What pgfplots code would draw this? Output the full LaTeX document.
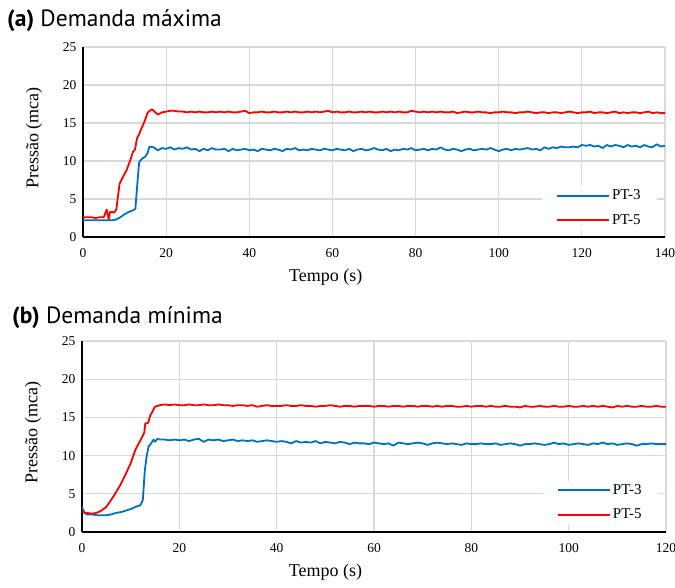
\documentclass[border=0pt]{standalone}
\usepackage{fontspec}
\setmainfont{Liberation Serif}
\newfontfamily\titlefont{PT Sans}
\usepackage{pgfplots}
\pgfplotsset{compat=1.18}

\definecolor{ptblue}{RGB}{0,112,192}
\definecolor{ptred}{RGB}{255,0,0}
\definecolor{gridgray}{RGB}{217,217,217}

\pgfplotsset{
  painel/.style={
    scale only axis,
    axis x line*=bottom, axis y line*=left,
    axis line style={line width=1.5pt, -},
    ymin=0, ymax=25, ytick={0,5,...,25},
    grid=major, major grid style={gridgray, line width=1.1pt},
    major tick length=0pt,
    /pgf/number format/assume math mode=true,
    tick label style={font=\fontsize{13.5}{14}\selectfont},
    yticklabel style={xshift=-3pt},
    xticklabel style={yshift=-8pt},
    ylabel={Pressão (mca)},
    ylabel style={at={(axis description cs:-0.084,0.52)}, anchor=center, font=\fontsize{18}{20}\selectfont},
    xlabel={Tempo (s)},
    xlabel style={at={(axis description cs:0.417,0)}, anchor=center, yshift=-40pt, font=\fontsize{18}{20}\selectfont},
    title style={at={(0,1)}, anchor=base west, inner sep=0pt, yshift=14pt, font=\titlefont\fontsize{23.5}{25}\selectfont},
    legend style={at={(0.986,0.27)}, anchor=north east, draw=none, fill=white,
      font=\fontsize{15}{16}\selectfont, row sep=9pt, inner xsep=14pt, inner ysep=2pt},
    legend cell align=left,
    legend image code/.code={\draw[##1] (0pt,0pt) -- (52pt,0pt);},
    every axis plot/.append style={line width=1.8pt, line join=round},
  }
}

\begin{document}
\begin{tikzpicture}
\path[use as bounding box] (-82pt,-56pt) rectangle (593pt,532pt);

% (a) demanda maxima
\begin{axis}[painel, at={(1pt,295pt)}, width=582pt, height=190pt,
  xmin=0, xmax=140, xtick={0,20,...,140},
  title={\textbf{(a)} Demanda máxima}, title style={xshift=-76pt}]
\addplot[ptblue] coordinates {
(0,2.2)(1,2.2)(2,2.2)(3,2.2)(4,2.2)(5,2.2)(6,2.2)(7,2.2)(8,2.3)(9,2.6)(10,3.0)(11,3.3)(12,3.5)(12.6,3.7)
(13,6.5)(13.5,9.8)(14,10.2)(15,10.6)(15.5,11.0)(16,11.9)(17,11.8)(18,11.4)
(19,11.7)(20,11.6)(21,11.8)(22,11.5)(23,11.7)(24,11.6)(25,11.8)(26,11.5)(27,11.6)(28,11.3)(29,11.6)(30,11.4)
(31,11.7)(32,11.5)(33,11.5)(34,11.6)(35,11.3)(36,11.6)(37,11.4)(38,11.5)(39,11.6)(40,11.4)
(41,11.5)(42,11.3)(43,11.6)(44,11.5)(45,11.4)(46,11.6)(47,11.5)(48,11.3)(49,11.6)(50,11.5)
(51,11.7)(52,11.4)(53,11.5)(54,11.4)(55,11.6)(56,11.5)(57,11.4)(58,11.6)(59,11.5)(60,11.4)
(61,11.6)(62,11.5)(63,11.4)(64,11.6)(65,11.3)(66,11.5)(67,11.6)(68,11.4)(69,11.5)(70,11.7)
(71,11.5)(72,11.4)(73,11.6)(74,11.3)(75,11.5)(76,11.4)(77,11.6)(78,11.5)(79,11.7)(80,11.4)
(81,11.5)(82,11.6)(83,11.4)(84,11.6)(85,11.5)(86,11.8)(87,11.5)(88,11.4)(89,11.6)(90,11.5)
(91,11.3)(92,11.5)(93,11.6)(94,11.4)(95,11.5)(96,11.6)(97,11.5)(98,11.7)(99,11.5)(100,11.3)
(101,11.5)(102,11.6)(103,11.4)(104,11.6)(105,11.5)(106,11.6)(107,11.7)(108,11.5)(109,11.6)(110,11.4)
(111,11.8)(112,11.6)(113,11.8)(114,11.7)(115,11.9)(116,11.8)(117,11.8)(118,11.9)(119,11.8)(120,12.1)
(121,12.0)(122,12.1)(123,11.9)(124,12.0)(125,11.7)(126,12.1)(127,11.9)(128,12.1)(129,12.0)(130,11.8)
(131,12.1)(132,11.9)(133,12.0)(134,11.8)(135,12.1)(136,11.9)(137,11.8)(138,12.2)(139,11.9)(140,12.0)
};
\addlegendentry{PT-3}
\addplot[ptred] coordinates {
(0,2.6)(1,2.6)(2,2.6)(3,2.5)(4,2.6)(5,2.6)(5.7,3.6)(6.2,2.3)(6.5,3.3)(7,3.3)(7.5,3.2)(8,3.6)
(8.8,7.0)(9.5,7.8)(10.5,8.8)(11.5,10.3)(12,11.2)(12.5,11.5)(13,13.0)(13.5,13.5)(14,14.2)(14.5,14.8)
(15,15.5)(15.5,16.3)(16,16.6)(16.6,16.8)(17.2,16.5)(18,16.1)
(19,16.4)(20,16.5)(21,16.6)(22,16.6)(23,16.5)(24,16.5)(25,16.4)(26,16.5)(27,16.4)(28,16.5)(29,16.4)(30,16.4)
(31,16.5)(32,16.4)(33,16.5)(34,16.4)(35,16.5)(36,16.4)(37,16.4)(38,16.5)(39,16.6)(40,16.3)
(41,16.4)(42,16.4)(43,16.5)(44,16.4)(45,16.4)(46,16.5)(47,16.4)(48,16.4)(49,16.5)(50,16.4)
(51,16.5)(52,16.4)(53,16.4)(54,16.5)(55,16.4)(56,16.5)(57,16.4)(58,16.5)(59,16.6)(60,16.4)
(61,16.5)(62,16.4)(63,16.4)(64,16.5)(65,16.4)(66,16.4)(67,16.5)(68,16.4)(69,16.5)(70,16.4)
(71,16.4)(72,16.5)(73,16.4)(74,16.5)(75,16.4)(76,16.5)(77,16.4)(78,16.4)(79,16.6)(80,16.5)
(81,16.4)(82,16.5)(83,16.4)(84,16.5)(85,16.4)(86,16.5)(87,16.4)(88,16.4)(89,16.5)(90,16.3)
(91,16.4)(92,16.5)(93,16.4)(94,16.4)(95,16.5)(96,16.4)(97,16.4)(98,16.3)(99,16.4)(100,16.4)
(101,16.5)(102,16.4)(103,16.4)(104,16.3)(105,16.4)(106,16.4)(107,16.5)(108,16.4)(109,16.3)(110,16.4)
(111,16.4)(112,16.3)(113,16.4)(114,16.4)(115,16.3)(116,16.4)(117,16.5)(118,16.4)(119,16.3)(120,16.4)
(121,16.4)(122,16.5)(123,16.3)(124,16.4)(125,16.4)(126,16.3)(127,16.4)(128,16.5)(129,16.3)(130,16.4)
(131,16.3)(132,16.4)(133,16.4)(134,16.3)(135,16.4)(136,16.5)(137,16.3)(138,16.4)(139,16.3)(140,16.3)
};
\addlegendentry{PT-5}
\end{axis}

% (b) demanda minima
\begin{axis}[painel, at={(0pt,0pt)}, width=584pt, height=191pt,
  xmin=0, xmax=120, xtick={0,20,...,120},
  title={\textbf{(b)} Demanda mínima}, title style={xshift=-70pt, yshift=-3pt}]
\addplot[ptblue] coordinates {
(0,3.3)(0.5,2.5)(1,2.3)(2,2.3)(3,2.2)(4,2.2)(5,2.2)(6,2.3)(7,2.5)(8,2.6)(9,2.8)(10,3.0)(11,3.3)(12,3.5)
(12.5,4.2)(12.9,8.0)(13.3,10.0)(13.7,11.2)(14.2,11.6)(14.7,12.1)(15,11.8)(15.5,12.2)(16,12.1)
(17,12.1)(18,12.0)(19,12.1)(20,12.0)(21,12.1)(22,11.9)(23,12.1)(24,12.2)(25,11.8)(26,12.1)(27,12.0)(28,12.1)(29,11.9)(30,12.0)
(31,12.1)(32,11.9)(33,12.0)(34,11.9)(35,12.0)(36,11.8)(37,11.9)(38,12.0)(39,11.9)(40,11.8)
(41,11.9)(42,11.8)(43,11.6)(44,11.9)(45,11.7)(46,11.8)(47,11.7)(48,11.9)(49,11.6)(50,11.8)
(51,11.7)(52,11.6)(53,11.8)(54,11.7)(55,11.5)(56,11.7)(57,11.6)(58,11.6)(59,11.5)(60,11.7)
(61,11.6)(62,11.5)(63,11.6)(64,11.3)(65,11.7)(66,11.6)(67,11.5)(68,11.6)(69,11.7)(70,11.6)
(71,11.4)(72,11.6)(73,11.7)(74,11.6)(75,11.5)(76,11.6)(77,11.5)(78,11.4)(79,11.6)(80,11.5)
(81,11.5)(82,11.6)(83,11.5)(84,11.5)(85,11.6)(86,11.4)(87,11.5)(88,11.6)(89,11.5)(90,11.3)
(91,11.5)(92,11.5)(93,11.6)(94,11.5)(95,11.4)(96,11.5)(97,11.7)(98,11.5)(99,11.6)(100,11.4)
(101,11.5)(102,11.6)(103,11.5)(104,11.4)(105,11.6)(106,11.5)(107,11.7)(108,11.5)(109,11.6)(110,11.4)
(111,11.5)(112,11.6)(113,11.5)(114,11.3)(115,11.5)(116,11.5)(117,11.6)(118,11.5)(119,11.5)(120,11.5)
};
\addlegendentry{PT-3}
\addplot[ptred] coordinates {
(0,2.6)(1,2.5)(2,2.4)(3,2.5)(4,2.8)(5,3.3)(6,4.2)(7,5.2)(8,6.3)(9,7.6)(10,9.0)(11,10.8)(12,12.0)
(12.8,13.0)(13,14.2)(13.6,14.3)(14,15.2)(15,16.4)(15.5,16.5)
(16,16.6)(17,16.7)(18,16.6)(19,16.7)(20,16.6)(21,16.6)(22,16.7)(23,16.6)(24,16.6)(25,16.7)(26,16.6)(27,16.6)(28,16.7)(29,16.6)(30,16.6)
(31,16.5)(32,16.6)(33,16.6)(34,16.5)(35,16.6)(36,16.4)(37,16.5)(38,16.6)(39,16.5)(40,16.5)
(41,16.5)(42,16.6)(43,16.5)(44,16.5)(45,16.6)(46,16.5)(47,16.5)(48,16.4)(49,16.5)(50,16.5)
(51,16.6)(52,16.5)(53,16.4)(54,16.5)(55,16.5)(56,16.4)(57,16.5)(58,16.5)(59,16.5)(60,16.4)
(61,16.5)(62,16.5)(63,16.4)(64,16.5)(65,16.5)(66,16.4)(67,16.5)(68,16.5)(69,16.4)(70,16.5)
(71,16.5)(72,16.4)(73,16.5)(74,16.4)(75,16.5)(76,16.5)(77,16.4)(78,16.4)(79,16.5)(80,16.4)
(81,16.5)(82,16.5)(83,16.4)(84,16.5)(85,16.4)(86,16.4)(87,16.5)(88,16.4)(89,16.4)(90,16.3)
(91,16.5)(92,16.4)(93,16.4)(94,16.5)(95,16.4)(96,16.4)(97,16.5)(98,16.4)(99,16.4)(100,16.5)
(101,16.4)(102,16.4)(103,16.5)(104,16.4)(105,16.5)(106,16.4)(107,16.5)(108,16.4)(109,16.3)(110,16.5)
(111,16.4)(112,16.5)(113,16.4)(114,16.4)(115,16.5)(116,16.4)(117,16.4)(118,16.5)(119,16.4)(120,16.4)
};
\addlegendentry{PT-5}
\end{axis}
\end{tikzpicture}
\end{document}
